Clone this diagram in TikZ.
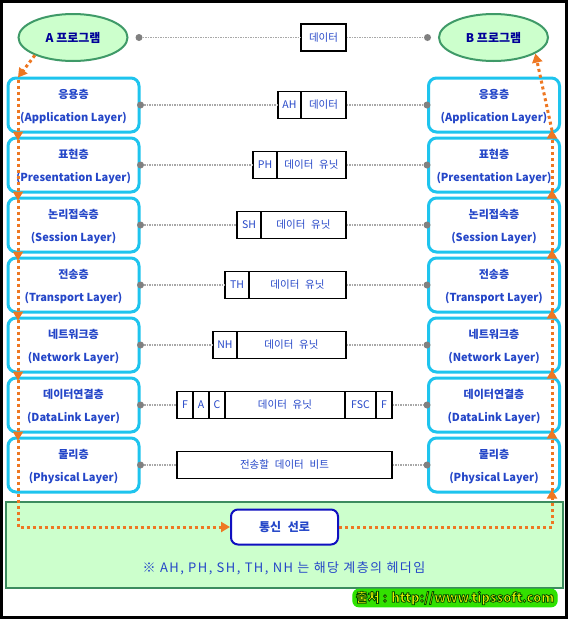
\documentclass[tikz,border=0pt]{standalone}
\usepackage{fontspec}
\setmainfont{Noto Sans CJK KR}
\newfontfamily\notefont[LetterSpace=11]{Noto Sans CJK KR}
\usetikzlibrary{calc,arrows.meta,shapes.geometric}
\definecolor{cyanb}{HTML}{1EC4EE}
\definecolor{txtblue}{HTML}{2446C8}
\definecolor{navy}{HTML}{000099}
\definecolor{lgreen}{HTML}{CCFFCC}
\definecolor{egreen}{HTML}{3F9A68}
\definecolor{bgreen}{HTML}{3C8C5E}
\definecolor{ora}{HTML}{EE7722}
\definecolor{dotgray}{HTML}{808080}
\definecolor{linegray}{HTML}{A8A8A8}
\definecolor{linkblue}{HTML}{1010C0}
\definecolor{wmglow}{HTML}{33E000}
\definecolor{wmfill}{HTML}{E8F200}
\newcommand\widesp{\spaceskip=0.55em plus 0.1em\relax}
\begin{document}
\begin{tikzpicture}[x=1pt,y=-1pt,
  layer/.style={draw=cyanb, line width=3pt, rounded corners=8pt, fill=white,
    minimum width=131pt, minimum height=54pt, inner sep=0pt, align=center,
    text depth=0pt, text=txtblue, font=\fontsize{11}{23}\selectfont\bfseries},
  prog/.style={ellipse, draw=egreen, line width=2pt, fill=lgreen,
    minimum width=109pt, minimum height=47pt, inner sep=0pt, text=navy,
    font=\fontsize{12}{14}\selectfont\bfseries},
  cell/.style={draw=black, line width=1.2pt, fill=white, minimum height=27pt,
    inner sep=0pt, text=txtblue, font=\fontsize{10.5}{12}\selectfont\widesp},
  pdot/.style={circle, fill=dotgray, minimum size=7pt, inner sep=0pt},
  gline/.style={linegray, line width=1.6pt, dash pattern=on 1.5pt off 1pt},
  oarrow/.style={ora, line width=3pt, dash pattern=on 3pt off 3pt,
    -{Triangle[length=9pt,width=10pt]}},
]
\useasboundingbox (0,0) rectangle (568,619);
\fill[white] (0,0) rectangle (568,619);

% programs
\node[prog] (A) at (73,37.5) {A 프로그램};
\node[prog] (B) at (493.5,37.5) {B 프로그램};

% layers
\foreach \i/\k/\e in {1/응용층/Application Layer,2/표현층/Presentation Layer,
  3/논리접속층/Session Layer,4/전송층/Transport Layer,5/네트워크층/Network Layer,
  6/데이터연결층/DataLink Layer,7/물리층/Physical Layer}{
  \node[layer] (L\i) at (73.5,45+60*\i) {\k\\(\e)};
  \node[layer] (R\i) at (494,45+60*\i) {\k\\(\e)};
}

% dots
\node[pdot] (dl0) at (139,37.5) {};
\node[pdot] (dr0) at (427.5,37.5) {};
\foreach \i in {1,...,7}{
  \node[pdot] (dl\i) at (L\i.east) {};
  \node[pdot] (dr\i) at (R\i.west) {};
}

% packets
\node[cell, minimum width=45pt] (p0) at (323.5,37.5) {데이터};
\node[cell, minimum width=23pt] (h1) at (289.5,105) {AH};
\node[cell, minimum width=45pt] (d1) at (323.5,105) {데이터};
\node[cell, minimum width=24pt] (h2) at (265,165) {PH};
\node[cell, minimum width=69pt] (d2) at (311.5,165) {데이터 유닛};
\node[cell, minimum width=24pt] (h3) at (249,225) {SH};
\node[cell, minimum width=85pt] (d3) at (303.5,225) {데이터 유닛};
\node[cell, minimum width=24pt] (h4) at (237,285) {TH};
\node[cell, minimum width=97pt] (d4) at (297.5,285) {데이터 유닛};
\node[cell, minimum width=24pt] (h5) at (225,345) {NH};
\node[cell, minimum width=109pt] (d5) at (291.5,345) {데이터 유닛};
\node[cell, minimum width=16pt] (h6) at (185,405) {F};
\node[cell, minimum width=16pt] (a6) at (201,405) {A};
\node[cell, minimum width=16pt] (c6) at (217,405) {C};
\node[cell, minimum width=120pt] (u6) at (285,405) {데이터 유닛};
\node[cell, minimum width=31pt] (s6) at (360.5,405) {FSC};
\node[cell, minimum width=16pt] (d6) at (384,405) {F};
\node[cell, minimum width=215pt] (h7) at (284.5,465) {전송할 데이터 비트};

% gray connectors
\draw[gline] (dl0) -- (p0);
\draw[gline] (p0) -- (dr0);
\foreach \i in {1,...,6}{
  \draw[gline] (dl\i) -- (h\i);
  \draw[gline] (d\i) -- (dr\i);
}
\draw[gline] (dl7) -- (h7);
\draw[gline] (h7) -- (dr7);

% medium
\node[draw=bgreen, line width=2pt, fill=lgreen, minimum width=557pt,
  minimum height=86pt, inner sep=0pt] (med) at (284,545) {};
\node[draw=linkblue, line width=2pt, rounded corners=7pt, fill=white,
  minimum width=107pt, minimum height=35pt, text=txtblue,
  font=\fontsize{12}{14}\selectfont\bfseries\widesp] (link) at (284.5,527) {통신 선로};
\node[text=txtblue, font=\fontsize{13}{15}\notefont] (note) at (284,568)
  {※ AH, PH, SH, TH, NH 는 해당 계층의 헤더임};

% orange flow
\coordinate (lx) at (18,0);
\coordinate (rx) at (552,0);
\draw[oarrow] (A.205) -- ($(L1.north -| lx)+(0,1)$);
\foreach \i [evaluate=\i as \j using int(\i+1)] in {1,...,6}
  \draw[oarrow] ($(L\i.north -| lx)+(0,3)$) -- ($(L\j.north -| lx)+(0,4)$);
\draw[oarrow] ($(L7.north -| lx)+(0,3)$) |- (link.west);
\draw[oarrow] (link.east) -| ($(R7.south -| rx)+(0,-4)$);
\foreach \i [evaluate=\i as \j using int(\i-1)] in {7,...,2}
  \draw[oarrow] ($(R\i.south -| rx)+(0,-3)$) -- ($(R\j.south -| rx)+(0,-4)$);
\draw[oarrow] ($(R1.south -| rx)+(0,-3)$) -- (B.-21);

% watermark
\node[fill=wmglow, draw=wmglow!70!green, line width=1pt, rounded corners=6pt,
  inner xsep=3pt, inner ysep=2pt, text=wmfill,
  font=\fontsize{13}{15}\selectfont\bfseries] (src) at (455,598)
  {\special{pdf:literal direct 2 Tr 0.8 w 0 0.3 0 RG}출처 : http://www.tipssoft.com\special{pdf:literal direct 0 Tr}};

% frame
\draw[line width=3pt] (1.5,1.5) rectangle (566.5,617.5);
\end{tikzpicture}
\end{document}
